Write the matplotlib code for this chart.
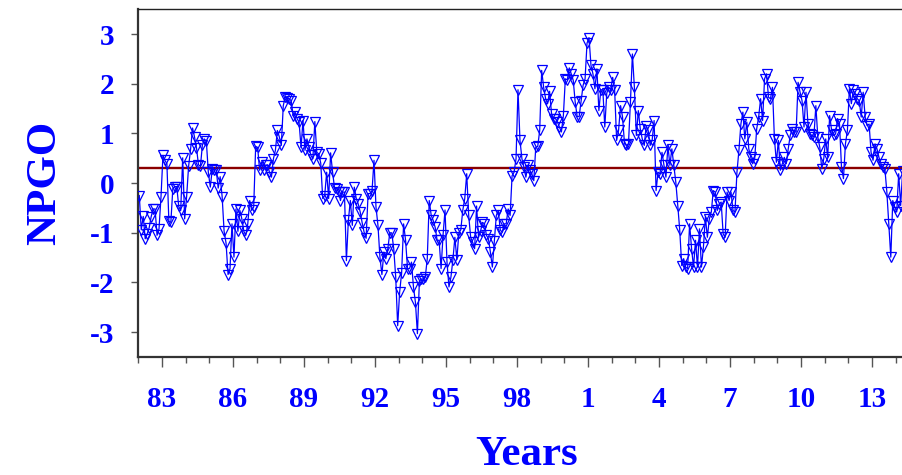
import numpy as np
import matplotlib
matplotlib.use("Agg")
import matplotlib.pyplot as plt
from matplotlib.ticker import FixedLocator

# Monthly NPGO index, starting January 1982
npgo_1982_1991 = [
    -0.25, -0.94, -0.67, -1.12, -1.02, -0.90, -0.68, -0.52, -0.52, -1.05, -0.92, -0.28,
    0.56, 0.46, 0.39, -0.77, -0.79, -0.11, -0.07, -0.07, -0.47, -0.55, 0.51, -0.72,
    -0.27, 0.34, 0.68, 1.11, 0.93, 0.71, 0.37, 0.34, 0.77, 0.89, 0.84, 0.22,
    -0.08, 0.28, 0.27, 0.27, -0.10, 0.13, -0.27, -0.97, -1.21, -1.84, -1.72, -0.82,
    -1.49, -0.52, -0.97, -0.55, -0.72, -0.97, -1.05, -0.82, -0.35, -0.55, -0.48, 0.74,
    0.72, 0.26, 0.42, 0.26, 0.36, 0.37, 0.22, 0.12, 0.49, 0.66, 1.06, 0.93,
    0.76, 1.56, 1.74, 1.71, 1.70, 1.66, 1.36, 1.43, 1.30, 1.23, 0.72, 1.26,
    0.66, 0.89, 0.72, 0.56, 0.49, 1.24, 0.62, 0.59, 0.40, -0.31, -0.25, 0.22,
    -0.31, 0.61, 0.22, -0.10, -0.11, -0.18, -0.35, -0.18, -0.18, -1.56, -0.75, -0.35,
    -0.85, -0.08, -0.31, -0.42, -0.58, -0.80, -0.99, -1.11, -0.21, -0.21, -0.15, 0.46,
]
npgo_1992_1999 = [
    -0.48, -0.85, -1.49, -1.84, -1.39, -1.52, -1.32, -1.00, -1.00, -1.32, -1.89, -2.87,
    -2.19, -1.81, -0.82, -1.15, -1.72, -1.72, -1.59, -2.09, -2.40, -3.03, -1.98, -1.93,
    -1.93, -1.89, -1.52, -0.35, -0.65, -0.75, -0.89, -1.15, -1.15, -1.72, -1.05, -0.54,
    -1.59, -2.09, -1.89, -1.54, -1.09, -1.54, -1.00, -0.94, -0.55, -0.31, 0.19, -0.65,
    -1.09, -1.19, -1.32, -0.46, -1.09, -0.97, -0.79, -0.82, -1.05, -1.12, -1.39, -1.69,
    -1.17, -0.65, -0.55, -0.94, -0.99, -0.82, -0.82, -0.52, -0.65, 0.15, 0.22, 0.49,
    1.88, 0.86, 0.49, 0.32, 0.12, 0.36, 0.26, 0.19, 0.05, 0.72, 0.74, 1.06,
]
npgo_2000_2007 = [
    2.27, 1.93, 1.70, 1.60, 1.85, 1.40, 1.30, 1.30, 1.23, 1.13, 1.03, 1.36,
    2.10, 2.08, 2.32, 2.20, 2.07, 1.63, 1.34, 1.34, 1.66, 1.97, 2.10, 2.82,
    2.93, 2.37, 2.20, 1.90, 2.30, 1.46, 1.88, 1.88, 1.13, 1.81, 1.93, 1.88,
    2.13, 1.87, 0.86, 1.07, 1.56, 1.33, 0.79, 0.76, 0.79, 1.63, 2.60, 1.93,
    0.96, 1.46, 1.09, 0.89, 0.76, 1.16, 1.06, 0.76, 0.86, 1.26, -0.15, 0.22,
    0.19, 0.62, 0.36, 0.12, 0.76, 0.36, 0.69, 0.36, 0.02, -0.45, -0.95, -1.66,
    -1.52, -1.69, -1.72, -0.82, -1.32, -1.69, -1.15, -1.69, -0.92, -1.69, -1.29, -0.68,
    -1.09, -0.72, -0.58, -0.15, -0.18, -0.55, -0.42, -0.38, -1.02, -1.09, -0.18, -0.35,
]
npgo_2008_2014 = [
    -0.18, -0.55, -0.58, 0.22, 0.66, 1.19, 1.43, 0.89, 1.23, 0.69, 0.52, 0.39,
    0.49, 1.09, 1.33, 1.70, 1.26, 2.10, 2.20, 1.73, 1.70, 1.93, 0.89, 0.42,
    0.86, 0.26, 0.39, 0.52, 0.39, 0.69, 0.96, 1.09, 1.03, 1.03, 2.03, 1.83,
    1.66, 1.13, 1.83, 1.19, 0.99, 0.96, 0.93, 1.56, 0.93, 0.72, 0.29, 0.49,
    0.89, 0.52, 1.36, 1.06, 0.96, 0.99, 1.30, 1.19, 0.32, 0.09, 0.79, 1.06,
    1.90, 1.60, 1.87, 1.80, 1.70, 1.66, 1.33, 1.83, 1.33, 1.16, 1.19, 0.62,
    0.46, 0.79, 0.69, 0.52, 0.39, 0.32, 0.29, -0.18, -0.82, -1.49, -0.35, -0.48,
    -0.58, 0.19, -0.45, 0.25,
]
start_year = 1982
reference_level = 0.3
tick_years = [1983, 1986, 1989, 1992, 1995, 1998, 2001, 2004, 2007, 2010, 2013]
tick_labels = ['83', '86', '89', '92', '95', '98', '1', '4', '7', '10', '13']
y_ticks = [-3, -2, -1, 0, 1, 2, 3]

values = np.array(npgo_1982_1991 + npgo_1992_1999 + npgo_2000_2007 + npgo_2008_2014)
months = np.arange(len(values))
t = start_year + (months + 0.5) / 12.0

W, H = 902, 475
fig = plt.figure(figsize=(W / 100, H / 100), dpi=100)
left_px, right_px, top_px, bot_px = 138.3, 919.4, 9.3, 357.0
ax = fig.add_axes([left_px / W, 1 - bot_px / H, (right_px - left_px) / W, (bot_px - top_px) / H])

blue = '#0000FF'
ax.plot(t, values, color=blue, lw=0.9, marker='v', markersize=6.5,
        markerfacecolor='none', markeredgecolor=blue, markeredgewidth=0.9, zorder=3)
ax.axhline(reference_level, color='#8B0000', lw=1.7, zorder=2)

ax.set_xlim(1982, 2015)
ax.set_ylim(-3.5, 3.5)

ax.xaxis.set_major_locator(FixedLocator(tick_years))
ax.set_xticklabels(tick_labels)
ax.xaxis.set_minor_locator(FixedLocator(list(range(1982, 2016))))
ax.set_yticks(y_ticks)
ax.set_yticklabels([str(v) for v in y_ticks])

font = dict(family='Liberation Serif', weight='bold')
for lab in ax.get_xticklabels() + ax.get_yticklabels():
    lab.set_fontfamily('Liberation Serif')
    lab.set_fontweight('bold')
    lab.set_fontsize(21)
    lab.set_color(blue)

ax.tick_params(axis='x', which='major', direction='out', length=7, width=1.0,
               color='#555555', pad=14)
ax.tick_params(axis='x', which='minor', direction='out', length=4, width=1.0,
               color='#555555')
ax.tick_params(axis='y', which='major', direction='out', length=5, width=1.0,
               color='#555555', pad=12)

for s in ['left', 'bottom']:
    ax.spines[s].set_color('#333333')
    ax.spines[s].set_linewidth(1.6)
ax.spines['top'].set_color('#222222')
ax.spines['top'].set_linewidth(1.0)
ax.spines['right'].set_visible(False)

fig.text(45 / W, 1 - 183 / H, 'NPGO', rotation=90, ha='center', va='center',
         color=blue, fontsize=31, **font)
fig.text(527 / W, 1 - 465 / H, 'Years', ha='center', va='baseline',
         color=blue, fontsize=31, **font)

fig.savefig('out.png', dpi=100)
